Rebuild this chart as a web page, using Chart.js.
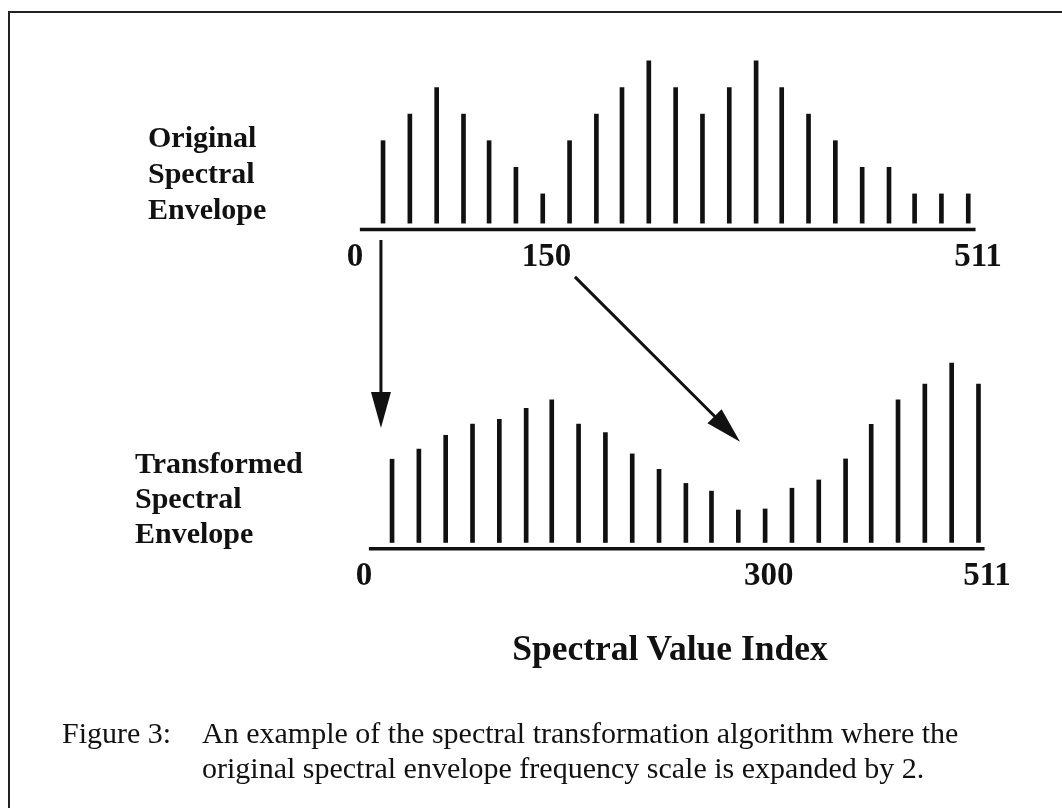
<!DOCTYPE html>
<html><head><meta charset="utf-8">
<script src="https://cdn.jsdelivr.net/npm/chart.js@4/dist/chart.umd.min.js"></script>
<style>
html,body{margin:0;padding:0;background:#fff;}
#wrap{position:relative;width:1062px;height:808px;overflow:hidden;font-family:"Liberation Serif","Times New Roman",serif;color:#111;}
#frame{position:absolute;left:8px;top:11px;width:1200px;height:900px;border-left:2px solid #222;border-top:2px solid #222;}
#c{position:absolute;left:0;top:0;}
.lab{position:absolute;font-weight:bold;font-size:30px;line-height:36px;white-space:nowrap;}
.cap{position:absolute;font-size:30px;line-height:35px;white-space:nowrap;}
</style>
</head><body>
<div id="wrap">
<div id="frame"></div>
<canvas id="c" width="1062" height="808"></canvas>
<div class="lab" style="left:148px;top:119px;">Original<br>Spectral<br>Envelope</div>
<div class="lab" style="left:135px;top:445px;line-height:35px;">Transformed<br>Spectral<br>Envelope</div>
<div class="lab" id="xtitle" style="left:0;width:1340px;text-align:center;top:630px;font-size:35.5px;">Spectral Value Index</div>
<div class="cap" style="left:62px;top:715px;">Figure 3:</div>
<div class="cap" style="left:202px;top:715px;">An example of the spectral transformation algorithm where the<br>original spectral envelope frequency scale is expanded by 2.</div>
</div>
<script>
// ---- data ----
const topIndex = [23,45,67,89,110,132,154,176,198,219,241,263,285,307,329,350,372,394,416,438,459,481,503];
const topValues = [3,4,5,4,3,2,1,3,4,5,6,5,4,5,6,5,4,3,2,2,1,1,1];
const bottomIndex = [23,45,67,89,111,133,154,176,198,220,242,264,285,307,329,351,373,395,416,438,460,482,504];
const bottomValues = [3.03,3.41,3.93,4.35,4.53,4.94,5.26,4.35,4.03,3.23,2.65,2.12,1.83,1.12,1.16,1.94,2.25,3.04,4.34,5.26,5.85,6.64,5.85];
const topTickPos = [0,157,511];
const topTickText = ['0','150','511'];
const bottomTickPos = [0,332,511];
const bottomTickText = ['0','300','511'];
// arrows: from (top index, top level) to (bottom index, bottom level)
const arrowFrom = [[21.3,-0.73],[180.4,-2.12]];
const arrowTo = [[13.9,4.2],[308.4,3.69]];

const INK = '#111';
const BASE = -0.1, AXIS_Y = -0.34, AXIS_FROM = 4, AXIS_TO = 509;

const overlay = {
  id:'overlay',
  afterDatasetsDraw(chart){
    const c = chart.ctx, s = chart.scales;
    c.save();
    c.strokeStyle = INK; c.fillStyle = INK; c.lineCap='butt';
    [[s.xTop,s.yTop,topTickPos,topTickText],[s.xBot,s.yBot,bottomTickPos,bottomTickText]].forEach(([xs,ys,pos,txt])=>{
      const y = ys.getPixelForValue(AXIS_Y);
      c.lineWidth = 3.5;
      c.beginPath(); c.moveTo(xs.getPixelForValue(AXIS_FROM), y); c.lineTo(xs.getPixelForValue(AXIS_TO), y); c.stroke();
      c.font = 'bold 33px "Liberation Serif"'; c.textAlign='center'; c.textBaseline='middle';
      pos.forEach((p,i)=>c.fillText(txt[i], xs.getPixelForValue(p), y+28));
    });
    arrowFrom.forEach((f,i)=>{
      const t = arrowTo[i];
      const x1 = s.xTop.getPixelForValue(f[0]), y1 = s.yTop.getPixelForValue(f[1]);
      const x2 = s.xBot.getPixelForValue(t[0]), y2 = s.yBot.getPixelForValue(t[1]);
      const ang = Math.atan2(y2-y1, x2-x1), L = 36, W = 10;
      const bx = x2 - L*Math.cos(ang), by = y2 - L*Math.sin(ang);
      c.lineWidth = 3;
      c.beginPath(); c.moveTo(x1,y1); c.lineTo(bx+Math.cos(ang)*4, by+Math.sin(ang)*4); c.stroke();
      c.beginPath(); c.moveTo(x2,y2);
      c.lineTo(bx + W*Math.sin(ang), by - W*Math.cos(ang));
      c.lineTo(bx - W*Math.sin(ang), by + W*Math.cos(ang));
      c.closePath(); c.fill();
    });
    c.restore();
  }
};

const ds = (idx, vals, xid, yid) => ({
  type:'bar', xAxisID:xid, yAxisID:yid,
  data: idx.map((x,i)=>({x:x, y:[BASE, vals[i]]})),
  backgroundColor: INK, borderWidth:0, barThickness:4, grouped:false
});

new Chart(document.getElementById('c'), {
  type:'bar',
  data:{ datasets:[ ds(topIndex, topValues, 'xTop','yTop'), ds(bottomIndex, bottomValues, 'xBot','yBot') ] },
  options:{
    responsive:false, animation:false, events:[],
    layout:{padding:0},
    plugins:{legend:{display:false}, tooltip:{enabled:false}},
    scales:{
      xTop:{type:'linear', display:false, offset:false, grid:{offset:false}, min:-291.17, max:579.9},
      xBot:{type:'linear', display:false, offset:false, grid:{offset:false}, min:-298.56, max:572.5},
      yTop:{type:'linear', display:false, min:-22.09, max:8.29},
      yBot:{type:'linear', display:false, min:-10.08, max:20.29}
    }
  },
  plugins:[overlay]
});
</script>
</body></html>
